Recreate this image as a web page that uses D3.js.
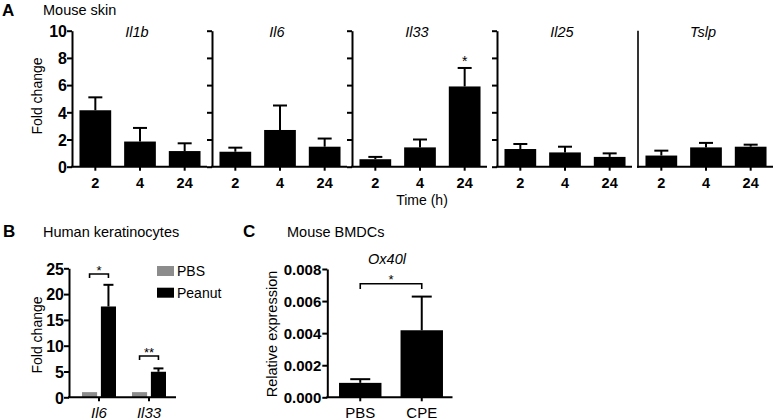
<!DOCTYPE html>
<html><head><meta charset="utf-8">
<script src="https://cdn.jsdelivr.net/npm/d3@7"></script>
<style>body{margin:0;background:#fff} svg{display:block;font-family:"Liberation Sans",Arial,Helvetica,sans-serif}</style>
</head><body><svg id="c" width="774" height="420"></svg>
<script>
// ---------- Data ----------
// Panel A: mouse skin, fold change by time (h)
const genesA = ["Il1b", "Il6", "Il33", "Il25", "Tslp"];
const timesA = ["2", "4", "24"];
const meanIl1b = [4.15, 1.85, 1.15];
const semIl1b  = [0.95, 1.0, 0.57];
const meanIl6  = [1.1, 2.7, 1.47];
const semIl6   = [0.3, 1.8, 0.6];
const meanIl33 = [0.55, 1.42, 5.9];
const semIl33  = [0.17, 0.58, 1.36];
const meanIl25 = [1.3, 1.05, 0.72];
const semIl25  = [0.37, 0.42, 0.26];
const meanTslp = [0.82, 1.42, 1.47];
const semTslp  = [0.36, 0.33, 0.15];
const ticksA = [0, 2, 4, 6, 8, 10];
const sigA = [{gene: "Il33", time: "24", label: "*"}];

// Panel B: human keratinocytes
const genesB = ["Il6", "Il33"];
const groupsB = ["PBS", "Peanut"];
const meanPBS_B = [1, 1];
const semPBS_B = [0, 0];
const meanPeanutB = [17.6, 4.95];
const semPeanutB = [4.2, 0.65];
const ticksB = [0, 5, 10, 15, 20, 25];
const sigB = ["*", "**"];

// Panel C: mouse BMDCs, Ox40l
const catsC = ["PBS", "CPE"];
const meanC = [0.0009, 0.00418];
const semC = [0.00023, 0.0021];
const ticksC = [0, 0.002, 0.004, 0.006, 0.008];
const sigC = "*";

// ---------- Drawing ----------
const svg = d3.select("#c");
const FONT = '"Liberation Sans",Arial,Helvetica,sans-serif';
const meansA = {Il1b: meanIl1b, Il6: meanIl6, Il33: meanIl33, Il25: meanIl25, Tslp: meanTslp};
const semsA = {Il1b: semIl1b, Il6: semIl6, Il33: semIl33, Il25: semIl25, Tslp: semTslp};

function txt(x, y, s, o = {}) {
  const t = svg.append("text").attr("x", x).attr("y", y).text(s)
    .attr("font-size", o.size || 14).attr("fill", "#000");
  if (o.weight) t.attr("font-weight", o.weight);
  if (o.style) t.attr("font-style", o.style);
  if (o.anchor) t.attr("text-anchor", o.anchor);
  if (o.rot) t.attr("transform", `rotate(-90,${x},${y})`);
  return t;
}

function errBar(cx, yTop, yErr, half, sw) {
  svg.append("line").attr("x1", cx).attr("x2", cx).attr("y1", yTop).attr("y2", yErr)
    .attr("stroke", "#000").attr("stroke-width", sw);
  svg.append("line").attr("x1", cx - half).attr("x2", cx + half).attr("y1", yErr).attr("y2", yErr)
    .attr("stroke", "#000").attr("stroke-width", sw);
}

function styleAxis(g, sw) {
  g.select(".domain").attr("stroke", "#000").attr("stroke-width", sw);
  g.selectAll(".tick line").attr("stroke", "#000").attr("stroke-width", sw);
}

// ----- Panel A -----
txt(2, 16, "A", {size: 17, weight: "bold"});
txt(43, 15, "Mouse skin", {size: 14.5});
const yA = d3.scaleLinear().domain([0, 10]).range([166.7, 30.7]);
const axesA = [72, 212, 352, 497, 638];

genesA.forEach((gene, i) => {
  const ax = axesA[i];
  const x = d3.scaleBand().domain(timesA).range([ax + 1, ax + 135]).paddingInner(0.29).paddingOuter(0.145);
  const bw = x.bandwidth();
  const m = meansA[gene], s = semsA[gene];
  timesA.forEach((t, j) => {
    const cx = x(t) + bw / 2;
    errBar(cx, yA(m[j]), yA(m[j] + s[j]), 7, 2);
    svg.append("rect").attr("x", x(t)).attr("width", bw)
      .attr("y", yA(m[j])).attr("height", yA(0) - yA(m[j])).attr("fill", "#000");
  });
  // baseline and x axis ticks
  svg.append("line").attr("x1", ax - 1).attr("x2", ax + 135).attr("y1", yA(0)).attr("y2", yA(0))
    .attr("stroke", "#000").attr("stroke-width", 2);
  const gx = svg.append("g").attr("transform", `translate(0,${yA(0)})`)
    .call(d3.axisBottom(x).tickSize(4).tickSizeOuter(0));
  gx.select(".domain").remove();
  gx.selectAll(".tick line").attr("stroke", "#000").attr("stroke-width", 2);
  gx.selectAll(".tick text").attr("y", 21).attr("dy", 0).attr("font-size", 14.5)
    .attr("font-weight", "bold").attr("font-family", FONT).attr("fill", "#000");
  // y axis
  if (gene === "Tslp") {
    svg.append("line").attr("x1", ax).attr("x2", ax).attr("y1", yA(10)).attr("y2", yA(0) + 1)
      .attr("stroke", "#000").attr("stroke-width", 1.6);
  } else {
    const axis = d3.axisLeft(yA).tickValues(ticksA).tickSize(5).tickSizeOuter(0).tickPadding(0);
    if (i > 0) axis.tickFormat("");
    const gy = svg.append("g").attr("transform", `translate(${ax},0)`).call(axis);
    styleAxis(gy, 2);
    gy.selectAll(".tick text").attr("font-size", 16).attr("font-weight", "bold")
      .attr("font-family", FONT).attr("fill", "#000").attr("dy", "0.36em");
  }
  txt(ax + 65, 36.5, gene, {size: 14.5, style: "italic", anchor: "middle"});
  sigA.filter(d => d.gene === gene).forEach(d => {
    const j = timesA.indexOf(d.time);
    txt(x(d.time) + bw / 2, yA(m[j] + s[j]) - 2, d.label, {size: 14, anchor: "middle"});
  });
});
txt(42, 96, "Fold change", {size: 14, anchor: "middle", rot: true});
txt(422, 205, "Time (h)", {size: 14, anchor: "middle"});

// ----- Panel B -----
txt(3, 237, "B", {size: 17, weight: "bold"});
txt(43, 237, "Human keratinocytes", {size: 14.5});
const yB = d3.scaleLinear().domain([0, 25]).range([397.3, 268.3]);
const x0B = d3.scaleBand().domain(genesB).range([74, 174]).paddingInner(0.32).paddingOuter(0.16);
const x1B = d3.scaleBand().domain(groupsB).range([0, x0B.bandwidth()]).paddingInner(0.2);
const colorB = d3.scaleOrdinal().domain(groupsB).range(["#8c8c8c", "#000"]);
const valsB = {PBS: [meanPBS_B, semPBS_B], Peanut: [meanPeanutB, semPeanutB]};
genesB.forEach((g, i) => {
  groupsB.forEach(grp => {
    const v = valsB[grp][0][i], s = valsB[grp][1][i];
    const bx = x0B(g) + x1B(grp);
    if (s > 0) errBar(bx + x1B.bandwidth() / 2, yB(v), yB(v + s), 5, 2);
    svg.append("rect").attr("x", bx).attr("width", x1B.bandwidth())
      .attr("y", yB(v)).attr("height", yB(0) - yB(v)).attr("fill", colorB(grp));
  });
  // significance bracket
  const a = x0B(g) + x1B("PBS") + x1B.bandwidth() / 2;
  const b = x0B(g) + x1B("Peanut") + x1B.bandwidth() / 2;
  const by = i === 0 ? 274 : 356;
  svg.append("path").attr("d", `M${a},${by + 4}V${by}H${b}V${by + 4}`)
    .attr("fill", "none").attr("stroke", "#000").attr("stroke-width", 1.6);
  txt((a + b) / 2, by + 0.5, sigB[i], {size: 13, anchor: "middle"});
});
svg.append("line").attr("x1", 68).attr("x2", 176).attr("y1", yB(0)).attr("y2", yB(0))
  .attr("stroke", "#000").attr("stroke-width", 2);
{
  const gx = svg.append("g").attr("transform", `translate(0,${yB(0)})`)
    .call(d3.axisBottom(x0B).tickSize(4).tickSizeOuter(0));
  gx.select(".domain").remove();
  gx.selectAll(".tick line").attr("stroke", "#000").attr("stroke-width", 2);
  gx.selectAll(".tick text").attr("y", 20.4).attr("dy", 0).attr("font-size", 15)
    .attr("font-style", "italic").attr("font-family", FONT).attr("fill", "#000");
  const gy = svg.append("g").attr("transform", "translate(69,0)")
    .call(d3.axisLeft(yB).tickValues(ticksB).tickSize(5).tickSizeOuter(0).tickPadding(0));
  styleAxis(gy, 2);
  gy.selectAll(".tick text").attr("font-size", 16).attr("font-weight", "bold")
    .attr("font-family", FONT).attr("fill", "#000").attr("dy", "0.36em");
}
txt(42, 335, "Fold change", {size: 14, anchor: "middle", rot: true});
groupsB.forEach((grp, i) => {
  svg.append("rect").attr("x", 157).attr("y", 266 + i * 21.7).attr("width", 17).attr("height", 10)
    .attr("fill", colorB(grp));
  txt(177, 276 + i * 21.7, grp, {size: 14});
});

// ----- Panel C -----
txt(243, 237, "C", {size: 17, weight: "bold"});
txt(287, 237, "Mouse BMDCs", {size: 14.5});
txt(387, 264, "Ox40l", {size: 14.5, style: "italic", anchor: "middle"});
const yC = d3.scaleLinear().domain([0, 0.008]).range([397.3, 269]);
const xC = d3.scaleBand().domain(catsC).range([329.5, 452.5]).paddingInner(0.31).paddingOuter(0.155);
catsC.forEach((c, i) => {
  const cx = xC(c) + xC.bandwidth() / 2;
  errBar(cx, yC(meanC[i]), yC(meanC[i] + semC[i]), 10, 2);
  svg.append("rect").attr("x", xC(c)).attr("width", xC.bandwidth())
    .attr("y", yC(meanC[i])).attr("height", yC(0) - yC(meanC[i])).attr("fill", "#000");
});
svg.append("line").attr("x1", 326.3).attr("x2", 452.5).attr("y1", yC(0)).attr("y2", yC(0))
  .attr("stroke", "#000").attr("stroke-width", 2);
{
  const gx = svg.append("g").attr("transform", `translate(0,${yC(0)})`)
    .call(d3.axisBottom(xC).tickSize(4).tickSizeOuter(0));
  gx.select(".domain").remove();
  gx.selectAll(".tick line").attr("stroke", "#000").attr("stroke-width", 2);
  gx.selectAll(".tick text").attr("y", 20.4).attr("dy", 0).attr("font-size", 15)
    .attr("font-family", FONT).attr("fill", "#000");
  const gy = svg.append("g").attr("transform", "translate(327.3,0)")
    .call(d3.axisLeft(yC).tickValues(ticksC).tickFormat(d3.format(".3f")).tickSize(5).tickSizeOuter(0).tickPadding(1));
  styleAxis(gy, 2);
  gy.selectAll(".tick text").attr("font-size", 15).attr("font-weight", "bold")
    .attr("font-family", FONT).attr("fill", "#000").attr("dy", "0.36em");
  const a = xC("PBS") + xC.bandwidth() / 2, b = xC("CPE") + xC.bandwidth() / 2;
  svg.append("path").attr("d", `M${a},289V283.7H${b}V289`)
    .attr("fill", "none").attr("stroke", "#000").attr("stroke-width", 1.6);
  txt((a + b) / 2, 284, sigC, {size: 13, anchor: "middle"});
}
txt(277, 334, "Relative expression", {size: 14.5, anchor: "middle", rot: true});
</script></body></html>
